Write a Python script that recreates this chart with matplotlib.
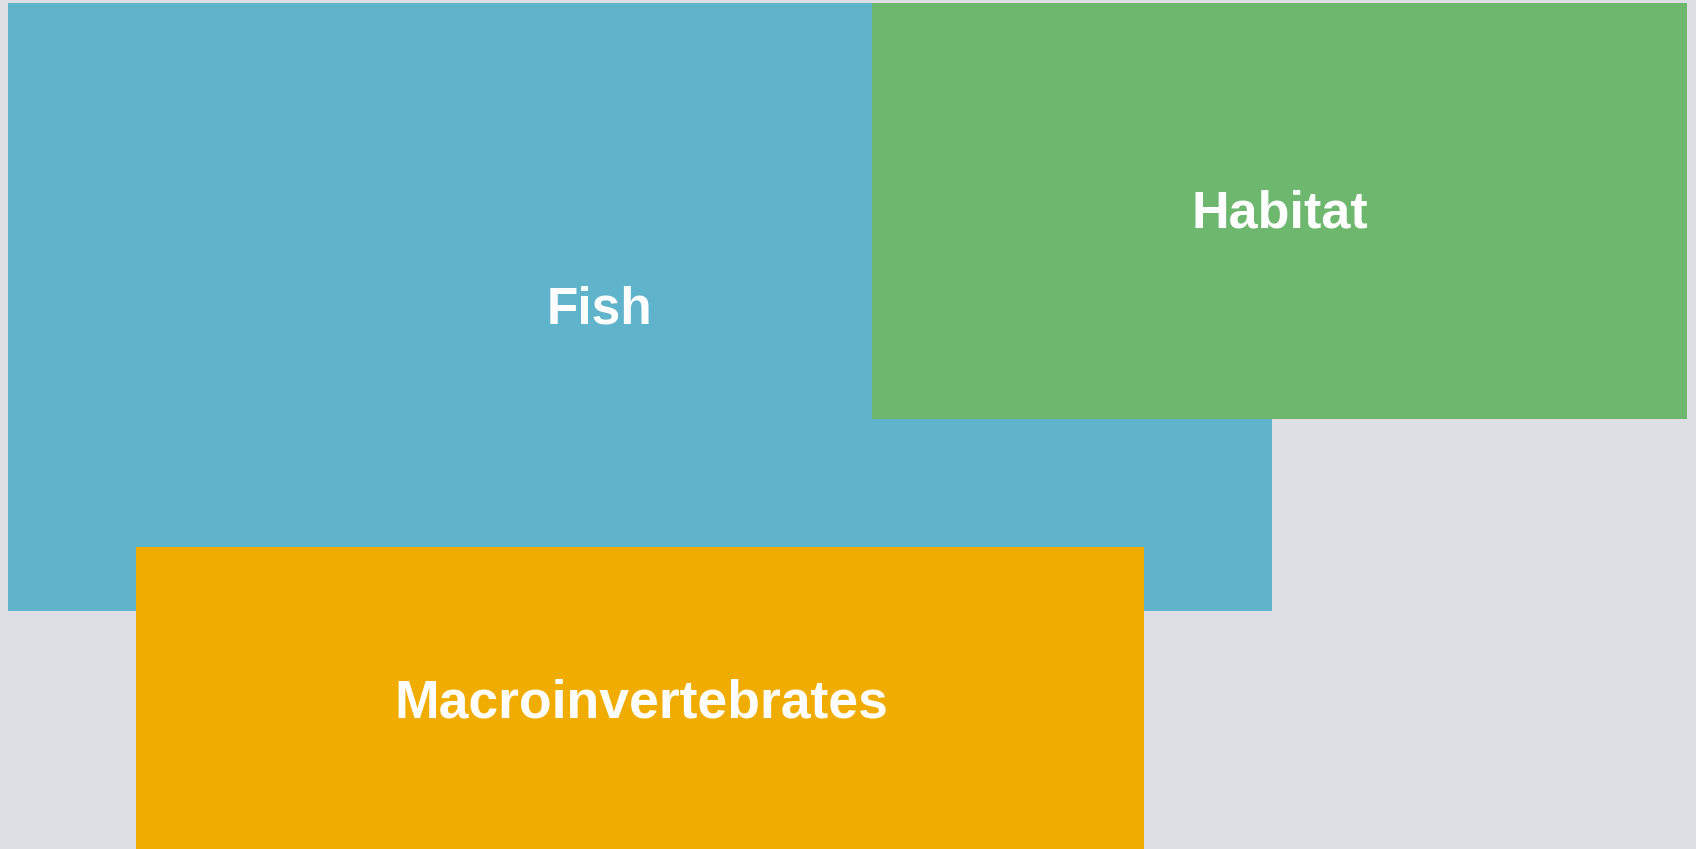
import matplotlib
matplotlib.use("Agg")
import matplotlib.pyplot as plt
from matplotlib.patches import Rectangle

# sets, as boxes in canvas units (left, top, right, bottom)
names = ["Fish", "Habitat", "Macroinvertebrates"]
lefts = [8, 872, 136]
tops = [3, 3, 547]
rights = [1272, 1687, 1144]
bottoms = [611, 419, 851]
colors = ["#5FB3CB", "#6DB76F", "#F0AD00"]

# label anchors (center x, baseline y) and sizes
label_x = [599, 1280, 641]
label_y = [324, 227, 718]
label_size = [37, 37.5, 38.5]

bg = "#DEDFE4"

fig = plt.figure(figsize=(16.96, 8.49), dpi=100)
fig.patch.set_facecolor(bg)
ax = fig.add_axes([0, 0, 1, 1])
ax.set_facecolor(bg)
ax.set_xlim(0, 1696)
ax.set_ylim(849, 0)
ax.axis("off")

for i in range(len(names)):
    r = Rectangle((lefts[i], tops[i]), rights[i] - lefts[i], bottoms[i] - tops[i],
                  facecolor=colors[i], edgecolor="none", zorder=i + 1)
    ax.add_patch(r)

for i in range(len(names)):
    ax.text(label_x[i], label_y[i], names[i], ha="center", va="baseline",
            color="white", fontsize=label_size[i], fontweight="bold",
            family=["Liberation Sans", "DejaVu Sans"], zorder=10)

fig.savefig("out.png", dpi=100, facecolor=bg)
